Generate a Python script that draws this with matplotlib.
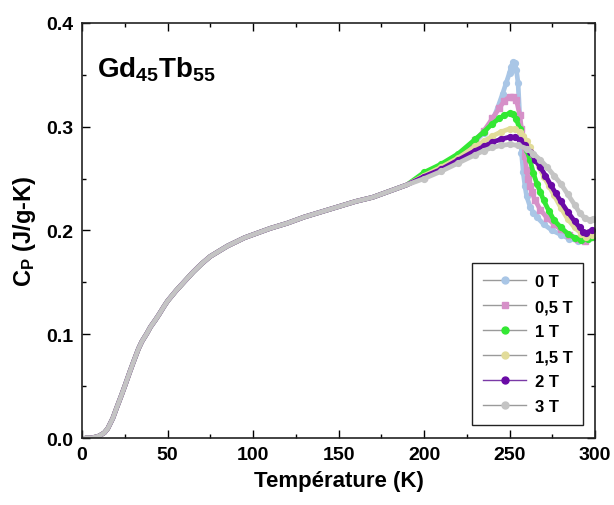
import matplotlib
matplotlib.use("Agg")
import matplotlib.pyplot as plt
from matplotlib.lines import Line2D
import numpy as np

plt.rcParams['font.family'] = ['Liberation Sans', 'DejaVu Sans']
plt.rcParams['mathtext.fontset'] = 'custom'
plt.rcParams['mathtext.rm'] = 'Liberation Sans:bold'
plt.rcParams['mathtext.bf'] = 'Liberation Sans:bold'
plt.rcParams['mathtext.it'] = 'Liberation Sans:bold'

# ---- data ----
# common low-temperature part (all fields overlap)
T_low = [2, 5, 8, 10, 13, 15, 18, 20, 23, 25, 28, 30, 33, 35, 38, 40, 43, 45, 48, 50,
         55, 60, 65, 70, 75, 80, 85, 90, 95, 100, 110, 120, 130, 140, 150, 160, 170, 180, 190]
cp_low = [0.000, 0.000, 0.001, 0.002, 0.005, 0.009, 0.019, 0.028, 0.041, 0.050, 0.064, 0.073,
          0.086, 0.093, 0.101, 0.107, 0.114, 0.119, 0.127, 0.132, 0.142, 0.151, 0.160, 0.168,
          0.175, 0.180, 0.185, 0.189, 0.193, 0.196, 0.202, 0.207, 0.213, 0.218, 0.223, 0.228,
          0.232, 0.238, 0.244]

T_0 = [200, 210, 220, 230, 235, 240, 243, 246, 248, 250, 251, 252, 253, 254, 255, 257, 258,
       259, 260, 262, 264, 266, 270, 275, 280, 285, 290, 295, 298]
cp_0 = [0.252, 0.261, 0.272, 0.286, 0.294, 0.306, 0.318, 0.332, 0.342, 0.352, 0.358, 0.362,
        0.361, 0.355, 0.342, 0.275, 0.256, 0.243, 0.233, 0.223, 0.217, 0.213, 0.206, 0.200,
        0.196, 0.192, 0.190, 0.192, 0.197]

T_05 = [200, 210, 220, 230, 235, 240, 244, 247, 250, 252, 254, 256, 257, 258, 259, 260, 261,
        262, 263, 265, 268, 272, 276, 280, 285, 290, 294, 298]
cp_05 = [0.252, 0.261, 0.271, 0.287, 0.296, 0.308, 0.318, 0.325, 0.329, 0.329, 0.326, 0.311,
         0.298, 0.286, 0.272, 0.258, 0.250, 0.243, 0.237, 0.229, 0.220, 0.212, 0.206, 0.201,
         0.196, 0.192, 0.190, 0.194]

T_1 = [200, 210, 220, 230, 235, 240, 244, 247, 250, 252, 254, 256, 258, 259, 260, 262, 264,
       266, 268, 270, 273, 276, 280, 284, 288, 292, 296, 298]
cp_1 = [0.256, 0.264, 0.274, 0.288, 0.295, 0.303, 0.308, 0.311, 0.313, 0.312, 0.307, 0.298,
        0.290, 0.284, 0.278, 0.268, 0.255, 0.245, 0.237, 0.229, 0.219, 0.210, 0.203, 0.197,
        0.193, 0.191, 0.192, 0.194]

T_15 = [200, 210, 220, 230, 235, 240, 245, 250, 253, 256, 258, 260, 262, 264, 267, 270, 273,
        276, 280, 284, 288, 292, 295, 298]
cp_15 = [0.253, 0.261, 0.270, 0.281, 0.286, 0.291, 0.295, 0.298, 0.298, 0.295, 0.291, 0.286,
         0.280, 0.273, 0.262, 0.252, 0.243, 0.234, 0.222, 0.211, 0.203, 0.197, 0.194, 0.196]

T_2 = [200, 210, 220, 230, 235, 240, 245, 250, 253, 256, 259, 262, 265, 268, 271, 274, 277,
       280, 284, 288, 291, 293, 295, 298]
cp_2 = [0.252, 0.259, 0.268, 0.277, 0.281, 0.285, 0.288, 0.290, 0.290, 0.287, 0.282, 0.276,
        0.268, 0.261, 0.253, 0.244, 0.236, 0.228, 0.218, 0.209, 0.203, 0.199, 0.198, 0.200]

T_3 = [200, 210, 220, 230, 235, 240, 245, 250, 255, 260, 264, 268, 272, 276, 280, 284, 288,
       291, 294, 297, 299]
cp_3 = [0.250, 0.257, 0.265, 0.273, 0.277, 0.280, 0.282, 0.283, 0.282, 0.279, 0.274, 0.268,
        0.261, 0.253, 0.245, 0.235, 0.225, 0.217, 0.212, 0.210, 0.211]

labels = ['0 T', '0,5 T', '1 T', '1,5 T', '2 T', '3 T']
highT = [T_0, T_05, T_1, T_15, T_2, T_3]
highCp = [cp_0, cp_05, cp_1, cp_15, cp_2, cp_3]

colors = ['#a9c6e6', '#d690c8', '#33e833', '#e2dc9a', '#6a0aa6', '#c4c4c4']
markers = ['o', 's', 'o', 'o', 'o', 'o']

fig = plt.figure(figsize=(6.14, 5.06), dpi=100)
ax = fig.add_axes([0.1336, 0.1324, 0.8355, 0.8202])

n_low = len(T_low)
for lab, Th, ch, c, m in zip(labels, highT, highCp, colors, markers):
    T = list(T_low) + list(Th)
    cp = list(cp_low) + list(ch)
    ax.plot(T, cp, color=c, lw=3.4, marker=m, ms=4.2, mec=c, mfc=c,
            markevery=list(range(n_low, len(T))),
            solid_capstyle='round', solid_joinstyle='round', zorder=2)

handles = [Line2D([0], [0], color='#9a9a9a' if i != 4 else '#7a3aa6', lw=1.0,
                  marker=m, ms=5, mfc=c, mec=c)
           for i, (c, m) in enumerate(zip(colors, markers))]
leg = ax.legend(handles, labels, loc='lower right', bbox_to_anchor=(0.977, 0.031),
                borderaxespad=0, fancybox=False, edgecolor='#222222', framealpha=1,
                prop={'weight': 'bold', 'size': 12}, handlelength=2.6,
                labelspacing=0.6, handletextpad=0.5, borderpad=0.65)
leg.get_frame().set_linewidth(1.0)

ax.set_xlim(0, 300)
ax.set_ylim(0, 0.4)
ax.set_xticks([0, 50, 100, 150, 200, 250, 300])
ax.set_xticks(np.arange(25, 300, 50), minor=True)
ax.set_yticks([0.0, 0.1, 0.2, 0.3, 0.4])
ax.set_yticklabels(['0.0', '0.1', '0.2', '0.3', '0.4'])
ax.set_yticks(np.arange(0.05, 0.4, 0.1), minor=True)
ax.tick_params(which='both', direction='in', top=True, right=True, width=1.0)
ax.tick_params(which='major', length=6, labelsize=14, pad=6)
ax.tick_params(which='minor', length=3)
for t in ax.get_xticklabels() + ax.get_yticklabels():
    t.set_fontweight('bold')
for s in ax.spines.values():
    s.set_linewidth(1.2)
    s.set_color('#222222')

ax.set_xlabel('Température (K)', fontsize=16, fontweight='bold', labelpad=5)
ax.set_ylabel(r'$\mathbf{C_{P}}$ (J/g-K)', fontsize=17, fontweight='bold', labelpad=6)

ax.text(0.029, 0.872, r'$\mathbf{Gd_{45}Tb_{55}}$', transform=ax.transAxes,
        fontsize=20, ha='left', va='baseline')

fig.savefig('out.png', dpi=100)
